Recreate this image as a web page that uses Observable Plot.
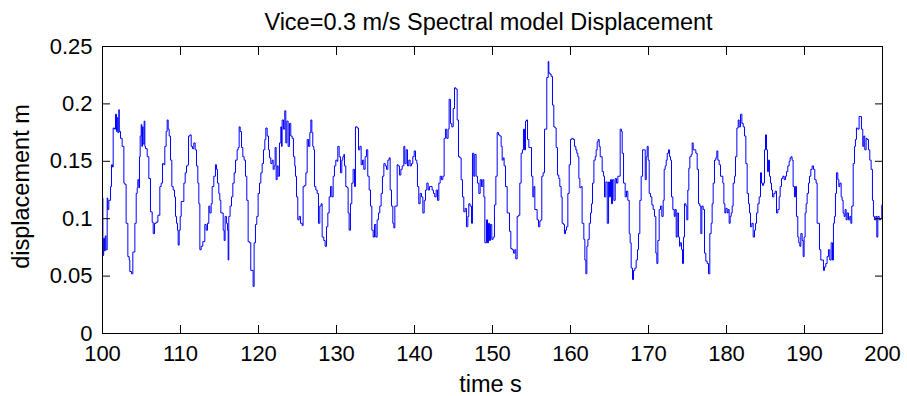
<!DOCTYPE html>
<html>
<head>
<meta charset="utf-8">
<script src="https://cdn.jsdelivr.net/npm/d3@7"></script>
<script src="https://cdn.jsdelivr.net/npm/@observablehq/plot@0.6"></script>
<style>
  html, body { margin: 0; padding: 0; background: white; }
</style>
</head>
<body>
<div id="chart"></div>
<script>
const titleText = "Vice=0.3 m/s Spectral model Displacement";
const xLabel = "time s";
const yLabel = "displacement m";
const xTicks = [100, 110, 120, 130, 140, 150, 160, 170, 180, 190, 200];
const yTicks = [0, 0.05, 0.1, 0.15, 0.2, 0.25];

const times = [
  100.00,100.05,100.15,100.25,100.35,100.45,100.60,100.68,100.81,101.03,101.15,101.28,101.37,101.54,101.67,101.80,101.88,101.97,
  102.10,102.14,102.31,102.52,102.74,102.86,103.03,103.25,103.42,103.50,103.72,103.89,104.15,104.32,104.45,104.53,104.66,104.74,
  104.83,104.96,105.04,105.13,105.21,105.34,105.43,105.51,105.73,105.94,106.15,106.37,106.50,106.67,106.88,107.10,107.35,107.52,
  107.69,107.86,107.99,108.16,108.29,108.42,108.55,108.72,108.89,109.06,109.23,109.36,109.49,109.62,109.70,109.83,109.96,110.09,
  110.43,110.60,110.77,110.94,111.03,111.20,111.37,111.54,111.71,111.88,112.05,112.22,112.35,112.48,112.65,112.86,113.12,113.29,
  113.46,113.63,113.76,113.93,114.06,114.27,114.48,114.61,114.74,114.91,115.04,115.17,115.47,115.60,115.72,115.89,116.02,116.11,
  116.19,116.36,116.54,116.71,116.88,117.05,117.26,117.39,117.52,117.65,117.82,117.99,118.16,118.33,118.50,118.67,118.84,119.01,
  119.31,119.44,119.61,119.78,119.95,120.13,120.30,120.47,120.64,120.81,120.94,121.11,121.28,121.41,121.58,121.75,121.88,122.01,
  122.13,122.26,122.39,122.52,122.69,122.86,122.95,123.03,123.20,123.37,123.50,123.63,123.80,123.97,124.14,124.31,124.48,124.65,
  124.74,124.87,125.04,125.21,125.38,125.60,125.72,125.89,126.07,126.24,126.41,126.58,126.71,126.84,126.96,127.09,127.18,127.35,
  127.52,127.69,127.86,128.03,128.16,128.37,128.54,128.72,128.89,129.06,129.23,129.40,129.57,129.74,129.91,130.08,130.17,130.34,
  130.51,130.68,130.81,130.94,131.02,131.19,131.36,131.49,131.62,131.79,131.96,132.13,132.31,132.43,132.65,132.82,132.99,133.16,
  133.33,133.50,133.67,133.84,134.01,134.19,134.36,134.53,134.70,134.87,135.04,135.21,135.38,135.55,135.72,135.89,136.07,136.24,
  136.41,136.58,136.75,136.88,137.05,137.22,137.35,137.48,137.78,137.90,138.07,138.25,138.42,138.63,138.76,138.93,139.10,139.27,
  139.44,139.61,139.78,139.96,140.13,140.30,140.38,140.55,140.72,140.90,141.07,141.24,141.41,141.58,141.75,141.92,142.26,142.43,
  142.60,142.78,142.95,143.12,143.29,143.46,143.63,143.80,143.97,144.14,144.31,144.44,144.61,144.78,144.96,145.13,145.30,145.47,
  145.64,145.81,145.98,146.15,146.32,146.49,146.66,146.84,146.96,147.13,147.31,147.43,147.60,147.73,147.90,148.07,148.25,148.42,
  148.59,148.76,148.89,149.02,149.23,149.36,149.49,149.61,149.74,149.91,150.08,150.25,150.43,150.60,150.77,150.94,151.11,151.24,
  151.37,151.49,151.67,151.88,152.18,152.35,152.52,152.69,152.86,152.99,153.16,153.33,153.50,153.67,153.84,153.97,154.10,154.23,
  154.36,154.49,154.66,155.00,155.17,155.30,155.43,155.72,155.90,156.07,156.20,156.32,156.49,156.67,156.96,157.14,157.22,157.35,
  157.52,157.69,157.86,158.03,158.16,158.33,158.50,158.63,158.80,158.93,159.10,159.23,159.36,159.49,159.66,159.83,160.00,160.17,
  160.34,160.51,160.68,160.81,160.94,161.07,161.20,161.37,161.49,161.71,161.84,161.97,162.10,162.23,162.40,162.57,162.70,162.82,
  163.00,163.17,163.29,163.42,163.55,163.68,163.81,164.06,164.24,164.36,164.53,164.71,164.88,165.00,165.13,165.26,165.39,165.56,
  165.73,165.90,166.07,166.37,166.54,166.63,166.80,167.01,167.18,167.35,167.53,167.65,167.78,167.95,168.08,168.25,168.42,168.59,
  168.72,168.89,169.06,169.24,169.58,169.71,169.83,169.96,170.09,170.26,170.43,170.60,170.77,170.94,171.07,171.20,171.37,171.54,
  171.71,171.88,172.01,172.14,172.27,172.40,172.57,172.70,172.82,172.95,173.12,173.30,173.42,173.55,173.68,173.85,173.98,174.06,
  174.23,174.36,174.49,174.62,174.79,174.91,175.04,175.17,175.30,175.47,175.60,175.73,176.07,176.24,176.41,176.58,176.71,176.84,
  177.01,177.18,177.35,177.52,177.69,177.86,178.03,178.16,178.29,178.46,178.63,178.76,178.89,179.06,179.23,179.53,179.66,179.79,
  179.91,180.09,180.21,180.34,180.47,180.60,180.73,180.85,181.03,181.15,181.33,181.50,181.62,181.80,181.97,182.14,182.31,182.48,
  182.65,182.82,182.95,183.08,183.25,183.42,183.59,183.72,183.85,184.02,184.19,184.36,184.49,184.62,184.74,184.87,185.00,185.13,
  185.26,185.38,185.51,185.64,185.77,185.90,186.07,186.24,186.41,186.58,186.75,186.88,187.05,187.22,187.39,187.56,187.69,187.86,
  188.03,188.16,188.29,188.41,188.54,188.71,188.84,188.97,189.14,189.27,189.40,189.53,189.70,189.83,189.95,190.08,190.21,190.34,
  190.51,190.64,190.81,190.98,191.15,191.32,191.49,191.62,191.92,192.09,192.43,192.56,192.73,192.90,193.07,193.24,193.42,193.59,
  193.71,193.84,193.97,194.10,194.27,194.40,194.53,194.70,194.82,194.95,195.08,195.21,195.34,195.47,195.64,195.81,195.94,196.06,
  196.24,196.41,196.53,196.66,196.83,197.00,197.30,197.47,197.60,197.73,197.90,198.03,198.20,198.37,198.54,198.71,198.84,198.97,
  199.14,199.27,199.40,199.57,199.74,199.91,200.00
];

const disp = [
  0.118,0.068,0.083,0.072,0.085,0.073,0.118,0.108,0.116,0.128,0.147,0.145,0.179,0.178,0.191,0.176,0.188,0.175,
  0.195,0.176,0.170,0.163,0.131,0.130,0.096,0.067,0.064,0.054,0.052,0.071,0.096,0.122,0.127,0.134,0.127,0.154,
  0.172,0.182,0.163,0.180,0.165,0.185,0.163,0.161,0.154,0.135,0.106,0.097,0.087,0.096,0.097,0.103,0.128,0.131,
  0.148,0.147,0.163,0.176,0.186,0.178,0.172,0.151,0.128,0.125,0.119,0.102,0.096,0.090,0.077,0.090,0.102,0.115,
  0.131,0.140,0.146,0.147,0.172,0.173,0.163,0.161,0.166,0.160,0.146,0.131,0.113,0.073,0.076,0.080,0.095,0.090,
  0.096,0.111,0.105,0.113,0.128,0.137,0.147,0.143,0.131,0.122,0.116,0.105,0.090,0.081,0.102,0.096,0.090,0.064,
  0.102,0.111,0.119,0.131,0.140,0.151,0.160,0.162,0.180,0.176,0.162,0.154,0.151,0.137,0.116,0.080,0.079,0.055,
  0.041,0.079,0.095,0.102,0.122,0.131,0.140,0.148,0.160,0.169,0.179,0.172,0.160,0.153,0.148,0.151,0.143,0.146,
  0.162,0.134,0.146,0.137,0.166,0.180,0.163,0.186,0.178,0.194,0.166,0.185,0.163,0.183,0.172,0.170,0.154,0.146,
  0.137,0.119,0.099,0.102,0.096,0.094,0.128,0.129,0.140,0.169,0.163,0.175,0.186,0.175,0.163,0.160,0.128,0.125,
  0.122,0.096,0.111,0.113,0.084,0.081,0.076,0.093,0.105,0.119,0.128,0.119,0.137,0.146,0.151,0.150,0.163,0.154,
  0.140,0.151,0.154,0.156,0.146,0.128,0.127,0.105,0.090,0.113,0.131,0.143,0.128,0.180,0.179,0.160,0.163,0.147,
  0.151,0.143,0.154,0.160,0.137,0.125,0.111,0.090,0.084,0.095,0.084,0.099,0.105,0.111,0.122,0.137,0.148,0.146,
  0.143,0.151,0.153,0.125,0.111,0.096,0.092,0.111,0.147,0.146,0.138,0.143,0.146,0.163,0.148,0.160,0.146,0.151,
  0.146,0.148,0.154,0.159,0.151,0.148,0.128,0.113,0.122,0.119,0.105,0.116,0.125,0.131,0.125,0.128,0.125,0.122,
  0.119,0.125,0.116,0.131,0.137,0.134,0.137,0.170,0.178,0.170,0.178,0.204,0.183,0.180,0.196,0.214,0.213,0.186,
  0.154,0.153,0.134,0.119,0.106,0.109,0.093,0.102,0.113,0.111,0.096,0.157,0.137,0.156,0.137,0.131,0.122,0.134,
  0.128,0.134,0.119,0.079,0.099,0.079,0.096,0.081,0.095,0.082,0.084,0.112,0.137,0.175,0.173,0.172,0.163,0.151,
  0.153,0.146,0.128,0.105,0.089,0.074,0.073,0.070,0.073,0.065,0.102,0.103,0.131,0.157,0.160,0.178,0.160,0.185,
  0.186,0.169,0.162,0.137,0.119,0.128,0.108,0.099,0.093,0.098,0.099,0.137,0.140,0.178,0.223,0.237,0.227,0.226,
  0.224,0.199,0.180,0.179,0.162,0.138,0.135,0.128,0.119,0.096,0.095,0.087,0.090,0.093,0.122,0.147,0.169,0.170,
  0.169,0.163,0.160,0.157,0.154,0.135,0.127,0.128,0.096,0.082,0.064,0.052,0.076,0.082,0.096,0.105,0.113,0.131,
  0.151,0.154,0.160,0.167,0.169,0.163,0.154,0.141,0.137,0.119,0.132,0.096,0.132,0.119,0.134,0.113,0.134,0.116,
  0.135,0.131,0.137,0.178,0.176,0.157,0.131,0.119,0.124,0.116,0.087,0.079,0.057,0.047,0.055,0.057,0.064,0.073,
  0.087,0.116,0.137,0.160,0.134,0.154,0.163,0.151,0.122,0.119,0.112,0.108,0.102,0.070,0.061,0.081,0.108,0.111,
  0.102,0.116,0.143,0.146,0.151,0.157,0.160,0.154,0.151,0.119,0.108,0.102,0.108,0.084,0.105,0.084,0.076,0.079,
  0.073,0.061,0.084,0.113,0.111,0.099,0.125,0.144,0.154,0.156,0.166,0.160,0.157,0.143,0.113,0.111,0.087,0.111,
  0.108,0.070,0.063,0.061,0.052,0.087,0.096,0.113,0.131,0.151,0.153,0.159,0.151,0.147,0.137,0.131,0.113,0.105,
  0.109,0.105,0.108,0.096,0.102,0.105,0.111,0.131,0.137,0.154,0.179,0.186,0.180,0.191,0.183,0.180,0.172,0.148,
  0.122,0.113,0.105,0.093,0.096,0.084,0.090,0.096,0.105,0.113,0.119,0.140,0.131,0.129,0.131,0.160,0.173,0.160,
  0.141,0.151,0.137,0.131,0.125,0.119,0.122,0.124,0.105,0.108,0.119,0.128,0.135,0.137,0.134,0.137,0.141,0.146,
  0.150,0.153,0.154,0.151,0.128,0.119,0.128,0.102,0.084,0.079,0.076,0.087,0.081,0.067,0.084,0.105,0.113,0.122,
  0.131,0.137,0.143,0.146,0.143,0.134,0.131,0.096,0.073,0.064,0.055,0.058,0.061,0.067,0.073,0.064,0.079,0.064,
  0.096,0.102,0.122,0.140,0.134,0.128,0.131,0.119,0.116,0.105,0.102,0.108,0.099,0.105,0.099,0.102,0.096,0.111,
  0.148,0.163,0.169,0.179,0.178,0.189,0.178,0.163,0.172,0.160,0.170,0.169,0.160,0.151,0.143,0.116,0.102,0.099,
  0.102,0.084,0.102,0.099,0.100,0.112,0.102
];

const series = times.map((t, i) => ({t, v: disp[i]}));

const font = "'Liberation Sans', Arial, Helvetica, sans-serif";

const chart = Plot.plot({
  width: 907,
  height: 396,
  marginLeft: 102,
  marginRight: 25,
  marginTop: 46,
  marginBottom: 63,
  style: {fontFamily: font, fontSize: "22px", color: "black", background: "white", overflow: "visible"},
  x: {domain: [100, 200]},
  y: {domain: [0, 0.25]},
  marks: [
    Plot.line(series, {x: "t", y: "v", curve: "step-after", stroke: "#0000ff", strokeWidth: 1}),
    Plot.frame({stroke: "black", strokeWidth: 1}),
    Plot.axisX(xTicks, {anchor: "bottom", tickSize: 0, tickPadding: 12, tickFormat: d => String(d), label: null, fontSize: 22}),
    Plot.axisX(xTicks, {anchor: "bottom", tickSize: -8, tickFormat: () => "", label: null}),
    Plot.axisX(xTicks, {anchor: "top", tickSize: -8, tickFormat: () => "", label: null}),
    Plot.axisY(yTicks, {anchor: "left", tickSize: 0, tickPadding: 10, tickFormat: d => String(d), label: null, fontSize: 22}),
    Plot.axisY(yTicks, {anchor: "left", tickSize: -8, tickFormat: () => "", label: null}),
    Plot.axisY(yTicks, {anchor: "right", tickSize: -8, tickFormat: () => "", label: null}),
    Plot.text([titleText], {text: d => d, frameAnchor: "top", lineAnchor: "middle", textAnchor: "middle", dx: -4, dy: -24, fontSize: 23.5}),
    Plot.text([xLabel], {text: d => d, frameAnchor: "bottom", lineAnchor: "middle", textAnchor: "middle", dx: -2, dy: 51, fontSize: 23.5}),
    Plot.text([yLabel], {text: d => d, frameAnchor: "left", lineAnchor: "middle", textAnchor: "middle", rotate: -90, dx: -81, dy: -3.5, fontSize: 23.5})
  ]
});

document.getElementById("chart").appendChild(chart);
</script>
</body>
</html>
